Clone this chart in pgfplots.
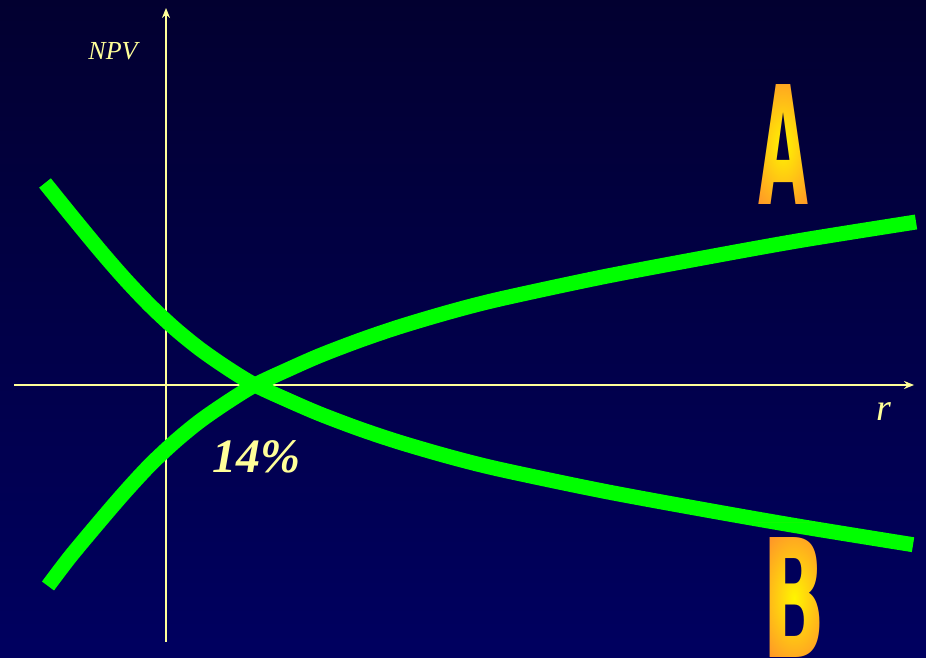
\documentclass[border=0pt]{standalone}
\usepackage{pgfplots}
\pgfplotsset{compat=1.18}
\usepackage{fontspec}
\setmainfont{Liberation Serif}
\newfontfamily\bigfont{DejaVu Sans}
\usetikzlibrary{fadings,arrows.meta,calc}
\definecolor{bgtop}{RGB}{2,0,48}
\definecolor{bgbot}{RGB}{0,0,96}
\definecolor{axyel}{RGB}{255,255,153}
\definecolor{curvegreen}{RGB}{0,255,0}
\definecolor{lettorange}{RGB}{255,150,40}
\definecolor{lettyellow}{RGB}{255,245,0}

\begin{tikzfadingfrompicture}[name=fadeA]
  \path[fill=transparent!100] (-40pt,-75pt) rectangle (40pt,75pt);
  \node[text=transparent!0, inner sep=0pt] at (0,0) {\scalebox{0.646}[1.646]{\bigfont\bfseries\fontsize{100pt}{100pt}\selectfont A}};
\end{tikzfadingfrompicture}
\begin{tikzfadingfrompicture}[name=fadeB]
  \path[fill=transparent!100] (-40pt,-75pt) rectangle (40pt,75pt);
  \node[text=transparent!0, inner sep=0pt] at (0,0) {\scalebox{0.83}[1.646]{\bigfont\bfseries\fontsize{100pt}{100pt}\selectfont B}};
\end{tikzfadingfrompicture}

\begin{document}
\begin{tikzpicture}
\begin{axis}[
  scale only axis,
  width=926pt, height=658pt,
  xmin=-26.113, xmax=119.55,
  ymin=-273, ymax=385,
  hide axis,
  clip=true,
]
\fill[top color=bgtop, bottom color=bgbot] (rel axis cs:0,0) rectangle (rel axis cs:1,1);
\coordinate (SW) at (rel axis cs:0,0);
\coordinate (NE) at (rel axis cs:1,1);
% axes
\draw[axyel, line width=2pt, -{Stealth[length=10pt,width=8pt]}] (axis cs:-23.91,0) -- (axis cs:117.67,0);
\draw[axyel, line width=2pt, -{Stealth[length=10pt,width=8pt]}] (axis cs:0,-257) -- (axis cs:0,377);
% project B (falling)
\addplot[curvegreen, line width=15pt, smooth] coordinates {
 (-19.03,202) (-15.10,171) (-10.38,134.6) (-6.45,105.9) (-2.52,79.6)
 (1.42,56.2) (5.35,35.9) (9.67,16.8) (14,0) (19.11,-15) (24.22,-29)
 (30.52,-44.1) (36.81,-57.4) (44.68,-71.9) (52.54,-84.4) (68.27,-105.4)
 (84.0,-123.9) (99.73,-141.4) (117.51,-159.7)
};
% project A (rising)
\addplot[curvegreen, line width=15pt, smooth] coordinates {
 (-18.56,-201) (-15.10,-172) (-10.38,-136) (-6.45,-107) (-2.52,-80)
 (1.42,-56.5) (5.35,-36) (9.67,-17) (14,0) (19.11,15.2) (24.22,29.5)
 (30.52,44.8) (36.81,58.4) (44.68,73.2) (52.54,86) (68.27,107.5)
 (84.0,126.5) (99.73,144.5) (117.98,163)
};
\node[axyel, font=\itshape\fontsize{26pt}{26pt}\selectfont] at (axis cs:-8.34,334) {NPV};
\node[axyel, font=\itshape\fontsize{38pt}{38pt}\selectfont] at (axis cs:112.95,-27) {r};
\node[axyel, font=\bfseries\itshape\fontsize{48pt}{48pt}\selectfont] at (axis cs:14.16,-72) {14\%};
\coordinate (A) at (axis cs:97.06,240);
\coordinate (B) at (axis cs:98.8,-213);
\end{axis}
\begin{scope}
\clip (SW) rectangle (NE);
\shade[inner color=lettyellow, outer color=lettorange, path fading=fadeA, fit fading=false, fading transform={shift={(A)}}]
  ($(A)+(-40pt,-75pt)$) rectangle ($(A)+(40pt,75pt)$);
\shade[inner color=lettyellow, outer color=lettorange, path fading=fadeB, fit fading=false, fading transform={shift={(B)}}]
  ($(B)+(-40pt,-75pt)$) rectangle ($(B)+(40pt,75pt)$);
\end{scope}
\pgfresetboundingbox
\useasboundingbox (SW) rectangle (NE);
\end{tikzpicture}
\end{document}
